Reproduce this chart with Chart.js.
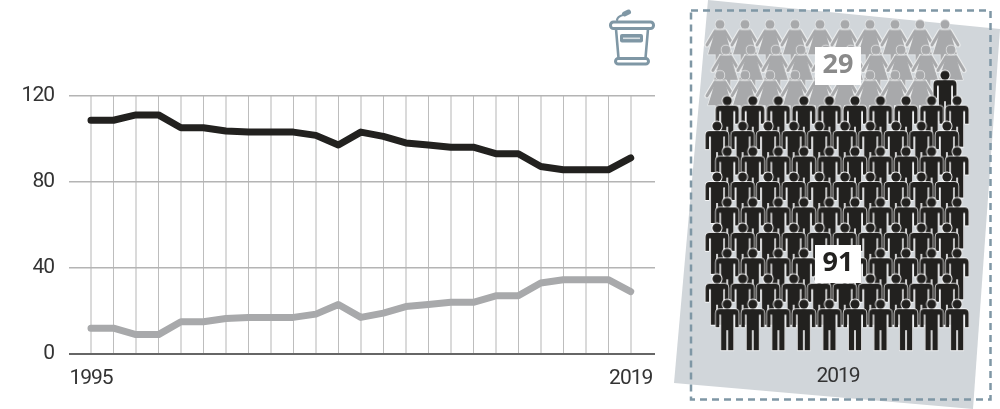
<!DOCTYPE html>
<html><head><meta charset="utf-8">
<style>html,body{margin:0;padding:0;background:#fff;overflow:hidden}
canvas{position:absolute;top:0;display:block}</style>
<script src="https://cdn.jsdelivr.net/npm/chart.js@4"></script></head>
<body>
<canvas id="lines" width="660" height="409" style="left:0"></canvas>
<canvas id="seats" width="340" height="409" style="left:660px"></canvas>
<script>
const years=[1995,1996,1997,1998,1999,2000,2001,2002,2003,2004,2005,2006,2007,2008,2009,2010,2011,2012,2013,2014,2015,2016,2017,2018,2019];
const menSeats=[108.5,108.5,111,111,105,105,103.5,103,103,103,101.5,97,103,101,98,97,96,96,93,93,87,85.5,85.5,85.5,91];
const womenSeats=[12,12,9,9,15,15,16.5,17,17,17,18.5,23,17,19,22,23,24,24,27,27,33,34.5,34.5,34.5,29];
const yTicks=[0,40,80,120];
const latestLabel='2019';
const latestWomen=29, latestMen=91;
const FONT='Roboto, sans-serif', BLACK='#22211f', GREY='#a8a9ab', STEEL='#7f97a5';

const narrow={id:'narrow',beforeDraw(c){c.ctx.letterSpacing='-1px';c.ctx.fontKerning='none';}};
const icon={id:'icon',afterDraw(c){const x=c.ctx;x.save();x.strokeStyle=STEEL;x.fillStyle=STEEL;x.lineCap='round';x.lineJoin='round';x.lineWidth=3;
 const rr=(a,b,w,h,r)=>{x.beginPath();x.roundRect(a,b,w,h,r);x.stroke();};
 rr(610.5,22,43,6.5,3);
 x.lineWidth=2.6;x.beginPath();x.moveTo(616,29);x.lineTo(618.5,58);x.moveTo(648,29);x.lineTo(645.5,58);x.stroke();
 x.lineWidth=3;rr(615.5,58.5,33,5.5,3);
 x.beginPath();x.roundRect(620,34,23,8.5,2);x.fill();
 x.fillStyle='#d8dfe3';x.fillRect(623,37.5,17,1.6);x.fillStyle=STEEL;
 x.lineWidth=2.2;x.beginPath();x.moveTo(617,20);x.quadraticCurveTo(617.5,16.5,623,15);x.stroke();
 x.lineWidth=5;x.beginPath();x.moveTo(624.5,14);x.lineTo(628.5,12);x.stroke();
 x.restore();}};

new Chart(document.getElementById('lines'),{type:'line',
 data:{datasets:[
  {data:years.map((y,i)=>({x:y,y:menSeats[i]})),borderColor:BLACK},
  {data:years.map((y,i)=>({x:y,y:womenSeats[i]})),borderColor:GREY}]},
 plugins:[narrow,icon],
 options:{responsive:false,animation:false,
  layout:{padding:{top:95.5,right:5,left:0,bottom:0}},
  plugins:{legend:{display:false},tooltip:{enabled:false}},
  elements:{line:{borderWidth:7,tension:0,borderCapStyle:'round',borderJoinStyle:'round'},point:{radius:0}},
  scales:{
   x:{type:'linear',min:1995-22/22.5,max:2019+24.3/22.5,
    afterBuildTicks:s=>{s.ticks=years.map(v=>({value:v}));},
    afterFit:s=>{s.height=55;s.paddingRight=0;s.paddingLeft=0;},
    border:{display:false},
    grid:{drawTicks:false,color:c=>c.index%2?'#bdbdbd':'#dadada',lineWidth:c=>c.index%2?1:2},
    ticks:{autoSkip:false,maxRotation:0,padding:12,color:'#333',font:{family:FONT,size:21},
     callback:v=>(v===years[0]||v===years[years.length-1])?String(v):''}},
   y:{min:0,max:120,
    afterBuildTicks:s=>{s.ticks=yTicks.map(v=>({value:v}));},
    afterFit:s=>{s.width=69;},
    border:{display:false},
    grid:{drawTicks:false,color:c=>c.tick.value===0?'#666':'#b4b4b4',lineWidth:c=>c.tick.value===0?2:1.5},
    ticks:{padding:15,color:'#333',font:{family:FONT,size:21}}}
  }}});

function sprite(draw){const k=document.createElement('canvas');k.width=40;k.height=64;const x=k.getContext('2d');x.translate(20,8);x.lineJoin='round';draw(x);return k;}
const manSprite=sprite(x=>{
 const body=new Path2D('M-7.5 5 L7.5 5 Q11.5 5 11.5 9 L11.5 23 L8 23 L8 10.5 L6.2 10.5 L6.2 46 L0.8 46 L0.8 26 L-0.8 26 L-0.8 46 L-6.2 46 L-6.2 10.5 L-8 10.5 L-8 23 L-11.5 23 L-11.5 9 Q-11.5 5 -7.5 5 Z');
 x.strokeStyle='#fff';x.lineWidth=1.4;x.stroke(body);
 x.beginPath();x.arc(0,0,4.8,0,7);x.stroke();
 x.fillStyle=BLACK;x.fill(body);x.beginPath();x.arc(0,0,4.6,0,7);x.fill();});
const womanSprite=sprite(x=>{
 const dress=new Path2D('M-4.5 5.5 L4.5 5.5 L12 30 L4.5 30 L4.5 46 L1 46 L1 30 L-1 30 L-1 46 L-4.5 46 L-4.5 30 L-12 30 Z');
 const arms=new Path2D('M-5 7 L-13 20.5 M5 7 L13 20.5');
 x.lineCap='round';x.strokeStyle='#f4f5f5';x.lineWidth=5;x.stroke(arms);
 x.lineWidth=1.2;x.stroke(dress);
 x.strokeStyle=GREY;x.lineWidth=3.2;x.stroke(arms);
 x.fillStyle=GREY;x.fill(dress);
 x.strokeStyle='#f4f5f5';x.lineWidth=1.2;x.beginPath();x.arc(0,0,4.6,0,7);x.stroke();x.fill();});

/* seats run row by row, ten to a row */
const PER_ROW=10, PITCH=26, ROW=25.82, HEAD_TO_CENTRE=24;
const rowShift=(r,upper)=>upper?(r%2?9/PITCH:3/PITCH):(r%2?.4:0);
function seat(i){const r=Math.floor(i/PER_ROW),c=i%PER_ROW,upper=r<3;
 return {x:c*(upper?25.45/PITCH:1)+rowShift(r,upper),y:r};}
const seatList=Array.from({length:latestWomen+latestMen},(_,i)=>seat(i));

const panel={id:'panel',
 beforeDatasetsDraw(c){const x=c.ctx;x.save();x.translate(-660,0);
  x.fillStyle='#d1d6da';x.beginPath();x.moveTo(708,0);x.lineTo(1000,29);x.lineTo(973,409);x.lineTo(674,383);x.closePath();x.fill();
  x.fillStyle='#333';x.font='21px '+FONT;x.letterSpacing='-1px';x.textAlign='center';x.textBaseline='middle';x.fillText(latestLabel,838,377);
  x.restore();},
 afterDatasetsDraw(c){const x=c.ctx;x.save();x.translate(-660,0);
  x.fillStyle='#fff';x.fillRect(815,47,46,38);x.fillRect(815,245,46,38);
  x.font='bold 27px "Noto Sans", sans-serif';x.textAlign='center';x.textBaseline='middle';
  x.fillStyle='#8a8a8a';x.fillText(String(latestWomen),838,65);
  x.fillStyle=BLACK;x.fillText(String(latestMen),838,263);
  x.strokeStyle=STEEL;x.lineWidth=2.5;x.setLineDash([7,5]);x.strokeRect(691,10.5,299.5,389);
  x.restore();}};

new Chart(document.getElementById('seats'),{type:'scatter',
 data:{datasets:[
  {order:0,data:seatList.slice(latestWomen),pointStyle:manSprite},
  {order:1,data:seatList.slice(0,latestWomen),pointStyle:womanSprite}]},
 plugins:[panel],
 options:{responsive:false,animation:false,layout:{padding:0},
  plugins:{legend:{display:false},tooltip:{enabled:false}},
  elements:{point:{radius:3,hoverRadius:3,borderWidth:0}},
  scales:{
   x:{display:false,min:-55/PITCH,max:(340-55)/PITCH},
   y:{display:false,reverse:true,min:-(22+HEAD_TO_CENTRE)/ROW,max:(409-22-HEAD_TO_CENTRE)/ROW}
  }}});
</script></body></html>
